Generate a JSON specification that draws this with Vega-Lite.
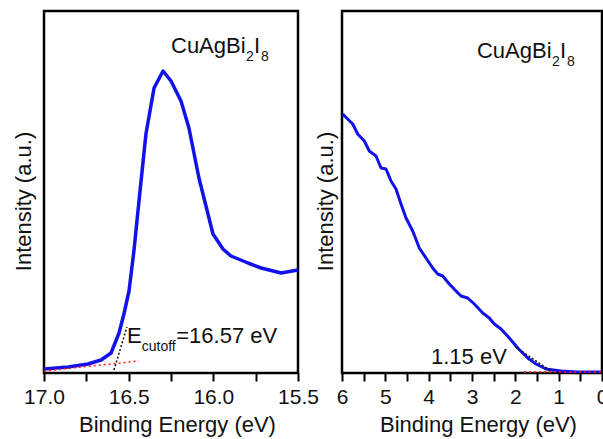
{
  "$schema": "https://vega.github.io/schema/vega-lite/v6.json",
  "autosize": {"type": "pad"},
  "padding": {"left": 10, "top": 9, "right": 0, "bottom": 0},
  "background": "white",
  "bounds": "flush",
  "spacing": 44,
  "config": {
    "font": "Liberation Sans",
    "view": {"stroke": "black", "strokeWidth": 2.5},
    "axis": {"grid": false, "labelFont": "Liberation Sans", "titleFont": "Liberation Sans", "labelColor": "#111", "titleColor": "#111", "titleFontWeight": "normal"}
  },
  "datasets": {
    "curves": [
      {"panel": "L", "x": 17.0, "y": 4}, {"panel": "L", "x": 16.858, "y": 6}, {"panel": "L", "x": 16.74, "y": 9}, {"panel": "L", "x": 16.663, "y": 13}, {"panel": "L", "x": 16.604, "y": 20}, {"panel": "L", "x": 16.557, "y": 40}, {"panel": "L", "x": 16.528, "y": 59}, {"panel": "L", "x": 16.498, "y": 82}, {"panel": "L", "x": 16.469, "y": 122}, {"panel": "L", "x": 16.439, "y": 172}, {"panel": "L", "x": 16.398, "y": 239}, {"panel": "L", "x": 16.35, "y": 285}, {"panel": "L", "x": 16.297, "y": 302}, {"panel": "L", "x": 16.25, "y": 292}, {"panel": "L", "x": 16.191, "y": 272}, {"panel": "L", "x": 16.144, "y": 245}, {"panel": "L", "x": 16.085, "y": 195}, {"panel": "L", "x": 16.002, "y": 139}, {"panel": "L", "x": 15.943, "y": 124}, {"panel": "L", "x": 15.896, "y": 117}, {"panel": "L", "x": 15.795, "y": 110}, {"panel": "L", "x": 15.718, "y": 105}, {"panel": "L", "x": 15.6, "y": 100}, {"panel": "L", "x": 15.5, "y": 103},
      {"panel": "R", "x": 5.984, "y": 259}, {"panel": "R", "x": 5.753, "y": 249}, {"panel": "R", "x": 5.638, "y": 239}, {"panel": "R", "x": 5.485, "y": 232}, {"panel": "R", "x": 5.37, "y": 222}, {"panel": "R", "x": 5.215, "y": 217}, {"panel": "R", "x": 5.1, "y": 205}, {"panel": "R", "x": 4.985, "y": 204}, {"panel": "R", "x": 4.869, "y": 192}, {"panel": "R", "x": 4.754, "y": 184}, {"panel": "R", "x": 4.638, "y": 169}, {"panel": "R", "x": 4.523, "y": 155}, {"panel": "R", "x": 4.368, "y": 142}, {"panel": "R", "x": 4.216, "y": 125}, {"panel": "R", "x": 4.062, "y": 115}, {"panel": "R", "x": 3.907, "y": 105}, {"panel": "R", "x": 3.791, "y": 99}, {"panel": "R", "x": 3.676, "y": 97}, {"panel": "R", "x": 3.524, "y": 89}, {"panel": "R", "x": 3.369, "y": 82}, {"panel": "R", "x": 3.254, "y": 77}, {"panel": "R", "x": 3.099, "y": 75}, {"panel": "R", "x": 2.947, "y": 69}, {"panel": "R", "x": 2.753, "y": 60}, {"panel": "R", "x": 2.601, "y": 55}, {"panel": "R", "x": 2.485, "y": 49}, {"panel": "R", "x": 2.331, "y": 44}, {"panel": "R", "x": 2.139, "y": 35}, {"panel": "R", "x": 1.945, "y": 25}, {"panel": "R", "x": 1.714, "y": 15}, {"panel": "R", "x": 1.523, "y": 9}, {"panel": "R", "x": 1.292, "y": 4}, {"panel": "R", "x": 0.946, "y": 2}, {"panel": "R", "x": 0.56, "y": 1}, {"panel": "R", "x": 0.02, "y": 1}
    ],
    "fits": [
      {"panel": "L", "kind": "baseline", "x": 17.0, "y": 2}, {"panel": "L", "kind": "baseline", "x": 16.44, "y": 12},
      {"panel": "L", "kind": "tangent", "x": 16.587, "y": 3}, {"panel": "L", "kind": "tangent", "x": 16.51, "y": 46},
      {"panel": "R", "kind": "baseline", "x": 1.8, "y": 1}, {"panel": "R", "kind": "baseline", "x": 0.0, "y": 1},
      {"panel": "R", "kind": "tangent", "x": 1.15, "y": 1}, {"panel": "R", "kind": "tangent", "x": 2.0, "y": 26}
    ],
    "labels": [
      {"panel": "L", "role": "main", "x": 16.25, "y": 320, "text": "CuAgBi"},
      {"panel": "L", "role": "sub", "x": 15.807, "y": 312, "text": "2"},
      {"panel": "L", "role": "main", "x": 15.76, "y": 320, "text": "I"},
      {"panel": "L", "role": "sub", "x": 15.718, "y": 312, "text": "8"},
      {"panel": "L", "role": "main", "x": 16.51, "y": 30, "text": "E"},
      {"panel": "L", "role": "sub", "x": 16.423, "y": 22, "text": "cutoff"},
      {"panel": "L", "role": "main", "x": 16.219, "y": 30, "text": "=16.57 eV"},
      {"panel": "R", "role": "main", "x": 2.885, "y": 315, "text": "CuAgBi"},
      {"panel": "R", "role": "sub", "x": 1.154, "y": 307, "text": "2"},
      {"panel": "R", "role": "main", "x": 0.969, "y": 315, "text": "I"},
      {"panel": "R", "role": "sub", "x": 0.807, "y": 307, "text": "8"},
      {"panel": "R", "role": "main", "x": 3.946, "y": 9, "text": "1.15 eV"}
    ]
  },
  "hconcat": [
    {
      "width": 254,
      "height": 362,
      "encoding": {
        "x": {
          "field": "x", "type": "quantitative",
          "scale": {"domain": [15.5, 17.0], "reverse": true, "nice": false, "zero": false},
          "axis": {
            "values": [17, 16.75, 16.5, 16.25, 16, 15.75, 15.5],
            "labelExpr": "abs(datum.value*2 - round(datum.value*2)) < 0.001 ? format(datum.value, '.1f') : ''",
            "labelFontSize": 21, "labelFlush": false, "labelOverlap": false, "labelBaseline": "alphabetic", "labelPadding": 22,
            "tickSize": 8, "tickWidth": 2, "tickColor": "black", "domain": false,
            "encode": {"ticks": {"update": {"y2": {"signal": "abs(datum.value*2 - round(datum.value*2)) < 0.001 ? 8 : 4"}}}},
            "title": "Binding Energy (eV)", "titleFontSize": 22, "titleX": 133, "titleY": 58, "titleBaseline": "alphabetic", "titleAlign": "center"
          }
        },
        "y": {
          "field": "y", "type": "quantitative",
          "scale": {"domain": [0, 362], "nice": false, "zero": false},
          "axis": {"title": "Intensity (a.u.)", "ticks": false, "labels": false, "domain": false, "titleFontSize": 22, "titleX": -14, "titleY": 190, "titleAngle": -90, "titleBaseline": "alphabetic", "titleAlign": "center"}
        }
      },
      "layer": [
        {"data": {"name": "curves"}, "transform": [{"filter": "datum.panel === 'L'"}], "mark": {"type": "line", "color": "#1111ee", "strokeWidth": 3.5, "strokeJoin": "round", "clip": true}},
        {"data": {"name": "fits"}, "transform": [{"filter": "datum.panel === 'L' && datum.kind === 'baseline'"}], "mark": {"type": "line", "color": "#ff1a1a", "strokeWidth": 1.5, "strokeDash": [2, 3]}},
        {"data": {"name": "fits"}, "transform": [{"filter": "datum.panel === 'L' && datum.kind === 'tangent'"}], "mark": {"type": "line", "color": "#111", "strokeWidth": 1.5, "strokeDash": [2, 2]}},
        {"data": {"name": "labels"}, "transform": [{"filter": "datum.panel === 'L' && datum.role === 'main'"}], "mark": {"type": "text", "fontSize": 22, "align": "left", "baseline": "alphabetic", "color": "#111", "font": "Liberation Sans"}, "encoding": {"text": {"field": "text"}}},
        {"data": {"name": "labels"}, "transform": [{"filter": "datum.panel === 'L' && datum.role === 'sub'"}], "mark": {"type": "text", "fontSize": 14, "align": "left", "baseline": "alphabetic", "color": "#111", "font": "Liberation Sans"}, "encoding": {"text": {"field": "text"}}}
      ]
    },
    {
      "width": 260,
      "height": 362,
      "encoding": {
        "x": {
          "field": "x", "type": "quantitative",
          "scale": {"domain": [0, 6], "reverse": true, "nice": false, "zero": false},
          "axis": {
            "values": [0, 0.5, 1, 1.5, 2, 2.5, 3, 3.5, 4, 4.5, 5, 5.5, 6],
            "labelExpr": "abs(datum.value - round(datum.value)) < 0.001 ? format(datum.value, 'd') : ''",
            "labelFontSize": 21, "labelFlush": false, "labelOverlap": false, "labelBaseline": "alphabetic", "labelPadding": 22,
            "tickSize": 8, "tickWidth": 2, "tickColor": "black", "domain": false,
            "encode": {"ticks": {"update": {"y2": {"signal": "abs(datum.value - round(datum.value)) < 0.001 ? 8 : 4"}}}},
            "title": "Binding Energy (eV)", "titleFontSize": 22, "titleX": 136, "titleY": 58, "titleBaseline": "alphabetic", "titleAlign": "center"
          }
        },
        "y": {
          "field": "y", "type": "quantitative",
          "scale": {"domain": [0, 362], "nice": false, "zero": false},
          "axis": {"title": "Intensity (a.u.)", "ticks": false, "labels": false, "domain": false, "titleFontSize": 22, "titleX": -9.5, "titleY": 190, "titleAngle": -90, "titleBaseline": "alphabetic", "titleAlign": "center"}
        }
      },
      "layer": [
        {"data": {"name": "curves"}, "transform": [{"filter": "datum.panel === 'R'"}], "mark": {"type": "line", "color": "#1111ee", "strokeWidth": 3, "strokeJoin": "round", "clip": true}},
        {"data": {"name": "fits"}, "transform": [{"filter": "datum.panel === 'R' && datum.kind === 'baseline'"}], "mark": {"type": "line", "color": "#ff1a1a", "strokeWidth": 1.5, "strokeDash": [2, 3]}},
        {"data": {"name": "fits"}, "transform": [{"filter": "datum.panel === 'R' && datum.kind === 'tangent'"}], "mark": {"type": "line", "color": "#111", "strokeWidth": 1.5, "strokeDash": [2, 2]}},
        {"data": {"name": "labels"}, "transform": [{"filter": "datum.panel === 'R' && datum.role === 'main'"}], "mark": {"type": "text", "fontSize": 22, "align": "left", "baseline": "alphabetic", "color": "#111", "font": "Liberation Sans"}, "encoding": {"text": {"field": "text"}}},
        {"data": {"name": "labels"}, "transform": [{"filter": "datum.panel === 'R' && datum.role === 'sub'"}], "mark": {"type": "text", "fontSize": 14, "align": "left", "baseline": "alphabetic", "color": "#111", "font": "Liberation Sans"}, "encoding": {"text": {"field": "text"}}}
      ]
    }
  ]
}
